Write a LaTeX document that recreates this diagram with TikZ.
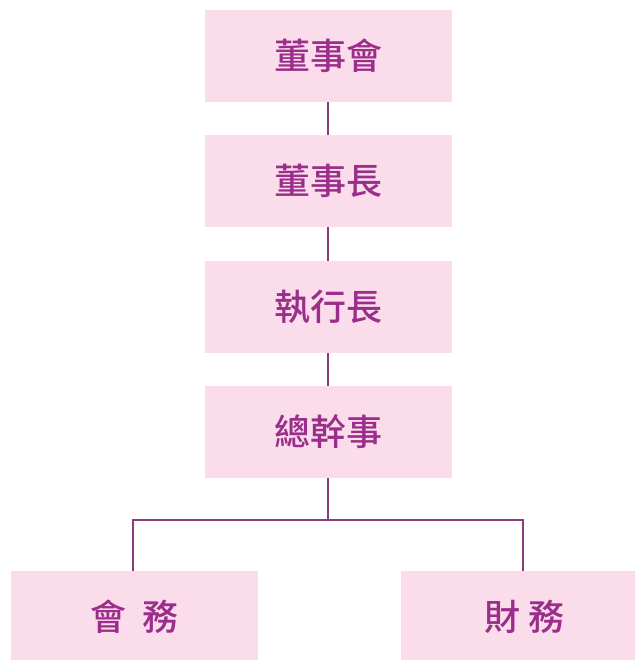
\documentclass[tikz,border=0pt]{standalone}
\usepackage{fontspec}
\newfontfamily\cjk{Noto Sans CJK TC Medium}
\definecolor{boxpink}{HTML}{FADCEA}
\definecolor{txtpurple}{HTML}{9A2E8A}
\definecolor{linepurple}{HTML}{8A3C7C}
\begin{document}
\begin{tikzpicture}[x=1pt,y=-1pt,
  orgbox/.style={fill=boxpink,draw=none,minimum width=247pt,minimum height=92pt,inner sep=0pt,
    font=\cjk\fontsize{36}{36}\selectfont,text=txtpurple},
  link/.style={draw=linepurple,line width=1.4pt}]
\useasboundingbox (0,0) rectangle (635,660);
\clip (0,0) rectangle (635,660);
\node[orgbox] (a) at (328.5,56) {董事會};
\node[orgbox] (b) at (328.5,181) {董事長};
\node[orgbox] (c) at (328.5,307) {執行長};
\node[orgbox] (d) at (328.5,432) {總幹事};
\node[orgbox] (e) at (134.5,617) {會\hspace{0.45em}務};
\node[orgbox] (f) at (524.5,617) {財\hspace{0.22em}務};
\coordinate (j) at (328,520);
\draw[link] (a.south -| j) -- (b.north -| j);
\draw[link] (b.south -| j) -- (c.north -| j);
\draw[link] (c.south -| j) -- (d.north -| j);
\draw[link] (d.south -| j) -- (j);
\draw[link] (j) -| ([xshift=-1.5pt]e.north);
\draw[link] (j) -| ([xshift=-1.5pt]f.north);
\end{tikzpicture}
\end{document}
